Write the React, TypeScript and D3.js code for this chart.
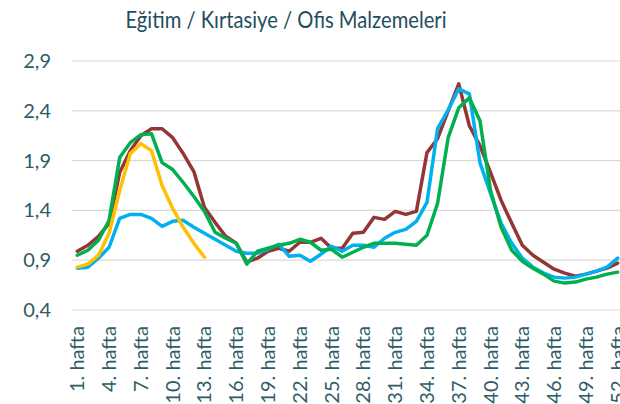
import React from "react";
import * as d3 from "d3";

// weekly index values
const weeks = d3.range(1, 53).map((w) => w + ". hafta");

const brown = [
  0.99, 1.05, 1.14, 1.27, 1.78, 2.0, 2.15, 2.22, 2.22, 2.13, 1.97, 1.79, 1.43,
  1.28, 1.14, 1.07, 0.88, 0.92, 0.99, 1.02, 0.99, 1.08, 1.08, 1.12, 1.02, 1.02,
  1.17, 1.18, 1.33, 1.31, 1.39, 1.36, 1.39, 1.98, 2.12, 2.4, 2.67, 2.25, 2.05,
  1.78, 1.5, 1.27, 1.05, 0.95, 0.88, 0.81, 0.77, 0.74, 0.76, 0.79, 0.82, 0.87,
];
const blue = [
  0.82, 0.83, 0.92, 1.03, 1.32, 1.36, 1.36, 1.32, 1.24, 1.29, 1.3, 1.23, 1.17,
  1.11, 1.05, 0.99, 0.97, 0.97, 1.01, 1.06, 0.94, 0.95, 0.89, 0.96, 1.04, 0.99,
  1.05, 1.05, 1.03, 1.12, 1.18, 1.21, 1.29, 1.48, 2.22, 2.41, 2.62, 2.57, 1.88,
  1.57, 1.27, 1.07, 0.92, 0.83, 0.77, 0.73, 0.72, 0.73, 0.76, 0.79, 0.83, 0.92,
];
const green = [
  0.95, 1.0, 1.1, 1.3, 1.93, 2.08, 2.16, 2.17, 1.88, 1.81, 1.68, 1.54, 1.39,
  1.18, 1.12, 1.07, 0.86, 0.99, 1.02, 1.05, 1.07, 1.11, 1.08, 1.0, 1.01, 0.93,
  0.98, 1.03, 1.07, 1.07, 1.07, 1.06, 1.05, 1.15, 1.47, 2.13, 2.43, 2.53, 2.3,
  1.6, 1.23, 1.0, 0.89, 0.82, 0.76, 0.69, 0.67, 0.68, 0.71, 0.73, 0.76, 0.78,
];
const yellow = [
  0.83, 0.86, 0.95, 1.17, 1.6, 1.97, 2.07, 2.0, 1.65, 1.42, 1.23, 1.07, 0.93,
];

const yTicks = [0.4, 0.9, 1.4, 1.9, 2.4, 2.9];

const series = [
  { values: brown, color: "#943634" },
  { values: blue, color: "#00B0F0" },
  { values: green, color: "#00B050" },
  { values: yellow, color: "#FFC000" },
];

const W = 620;
const H = 404;
const margin = { top: 61, right: -3, bottom: 94, left: 72 };

export default function App() {
  const x = d3
    .scaleBand()
    .domain(weeks)
    .range([margin.left, W - margin.right]);
  const y = d3
    .scaleLinear()
    .domain([0.4, 2.9])
    .range([H - margin.bottom, margin.top]);

  const line = d3
    .line<number>()
    .x((d, i) => (x(weeks[i]) as number) + x.bandwidth() / 2)
    .y((d) => y(d));

  const labelColor = "#2E5B68";

  return (
    <div style={{ position: "fixed", left: 0, top: 0 }}>
      <svg width={W} height={H} style={{ display: "block", fontFamily: "Lato, sans-serif" }}>
        <rect width={W} height={H} fill="#fff" />
        <text
          x={286}
          y={28}
          textAnchor="middle"
          fontSize={23}
          textLength={321}
          lengthAdjust="spacingAndGlyphs"
          fill="#1F4E5C"
        >
          Eğitim / Kırtasiye / Ofis Malzemeleri
        </text>

        {/* grid + y labels */}
        {yTicks.map((t) => (
          <g key={t}>
            <line
              x1={margin.left}
              x2={W}
              y1={y(t)}
              y2={y(t)}
              stroke="#D9D9D9"
              strokeWidth={1.2}
            />
            <text
              x={51}
              y={y(t)}
              dy="0.35em"
              textAnchor="end"
              fontSize={20}
              fill={labelColor}
            >
              {t.toFixed(1).replace(".", ",")}
            </text>
          </g>
        ))}

        {/* x labels, every third week */}
        {weeks
          .filter((_, i) => i % 3 === 0)
          .map((w) => (
            <text
              key={w}
              transform={`translate(${(x(w) as number) + x.bandwidth() / 2},326) rotate(-90)`}
              dy="0.35em"
              textAnchor="end"
              fontSize={20}
              fill={labelColor}
            >
              {w}
            </text>
          ))}

        {series.map((s) => (
          <path
            key={s.color}
            d={line(s.values) || ""}
            fill="none"
            stroke={s.color}
            strokeWidth={3.5}
            strokeLinejoin="round"
            strokeLinecap="round"
          />
        ))}
      </svg>
    </div>
  );
}
